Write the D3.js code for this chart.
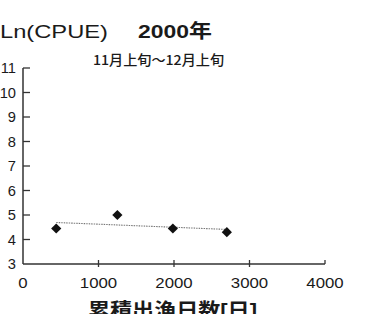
<!DOCTYPE html>
<html>
<head>
<meta charset="utf-8">
<script src="https://cdn.jsdelivr.net/npm/d3@7"></script>
<style>
  body { margin: 0; background: #fff; }
  svg { display: block; }
  text { font-family: "Liberation Sans", Arial, "Noto Sans CJK JP", sans-serif; fill: #1a1a1a; }
</style>
</head>
<body>
<div id="chart"></div>
<script>
// --- data ---
const days = [440, 1250, 1985, 2700];        // 累積出漁日数
const lnCpue = [4.45, 5.0, 4.45, 4.3];       // Ln(CPUE)
const xTicks = [0, 1000, 2000, 3000, 4000];
const yTicks = [3, 4, 5, 6, 7, 8, 9, 10, 11];

const width = 374, height = 314;

const svg = d3.select("#chart").append("svg")
    .attr("width", width)
    .attr("height", height);

const x = d3.scaleLinear().domain([0, 4000]).range([23, 325]);
const y = d3.scaleLinear().domain([3, 11]).range([264, 68]);

const axisColor = "#333";

// y axis line + inward ticks
svg.append("line")
    .attr("x1", x(0)).attr("x2", x(0))
    .attr("y1", y(11)).attr("y2", y(3))
    .attr("stroke", axisColor).attr("stroke-width", 1.5);

svg.append("g").selectAll("line")
    .data(yTicks.filter(d => d !== 3))
    .join("line")
    .attr("x1", x(0)).attr("x2", x(0) + 7)
    .attr("y1", d => y(d)).attr("y2", d => y(d))
    .attr("stroke", axisColor).attr("stroke-width", 1.3);

svg.append("g").selectAll("text")
    .data(yTicks)
    .join("text")
    .attr("transform", d => `translate(16,${y(d) + 5}) scale(1.05,1)`)
    .attr("text-anchor", "end")
    .attr("font-size", 14)
    .text(d => d);

// x axis line + crossing ticks
svg.append("line")
    .attr("x1", x(0)).attr("x2", x(4000))
    .attr("y1", y(3)).attr("y2", y(3))
    .attr("stroke", axisColor).attr("stroke-width", 1.5);

svg.append("g").selectAll("line")
    .data(xTicks.filter(d => d > 0))
    .join("line")
    .attr("x1", d => x(d)).attr("x2", d => x(d))
    .attr("y1", y(3) - 4).attr("y2", d => d === 4000 ? y(3) : y(3) + 3)
    .attr("stroke", axisColor).attr("stroke-width", 1.3);

svg.append("g").selectAll("text")
    .data(xTicks)
    .join("text")
    .attr("transform", d => `translate(${x(d)},${y(3) + 24}) scale(1.2,1)`)
    .attr("text-anchor", "middle")
    .attr("font-size", 14)
    .text(d => d);

// trend line (least squares fit of the points)
const mx = d3.mean(days), my = d3.mean(lnCpue);
const slope = d3.sum(days, (d, i) => (d - mx) * (lnCpue[i] - my)) /
              d3.sum(days, d => (d - mx) * (d - mx));
const fit = v => my + slope * (v - mx);
const x0 = d3.min(days), x1 = d3.max(days);

svg.append("line")
    .attr("x1", x(x0)).attr("y1", y(fit(x0)))
    .attr("x2", x(x1)).attr("y2", y(fit(x1)))
    .attr("stroke", "#777")
    .attr("stroke-width", 1.1)
    .attr("stroke-dasharray", "1.5,1");

// diamond markers
svg.append("g").selectAll("path")
    .data(days.map((d, i) => [d, lnCpue[i]]))
    .join("path")
    .attr("transform", d => `translate(${x(d[0])},${y(d[1])}) rotate(45)`)
    .attr("d", d3.symbol().type(d3.symbolSquare).size(52))
    .attr("fill", "#111");

// titles
svg.append("text")
    .attr("x", 0).attr("y", 38)
    .attr("font-size", 18)
    .attr("textLength", 108)
    .attr("lengthAdjust", "spacingAndGlyphs")
    .text("Ln(CPUE)");

svg.append("text")
    .attr("x", 138).attr("y", 38)
    .attr("font-size", 19)
    .attr("font-weight", "bold")
    .attr("textLength", 74)
    .attr("lengthAdjust", "spacingAndGlyphs")
    .text("2000年");

svg.append("text")
    .attr("x", 93).attr("y", 65)
    .attr("font-size", 13.5)
    .attr("font-weight", 500)
    .style("font-family", "'Noto Sans CJK JP', 'Liberation Sans', sans-serif")
    .attr("textLength", 131)
    .attr("lengthAdjust", "spacingAndGlyphs")
    .text("11月上旬～12月上旬");

svg.append("text")
    .attr("x", 88).attr("y", 318)
    .attr("font-size", 20)
    .attr("font-weight", "bold")
    .attr("textLength", 169)
    .attr("lengthAdjust", "spacingAndGlyphs")
    .text("累積出漁日数[日]");
</script>
</body>
</html>
